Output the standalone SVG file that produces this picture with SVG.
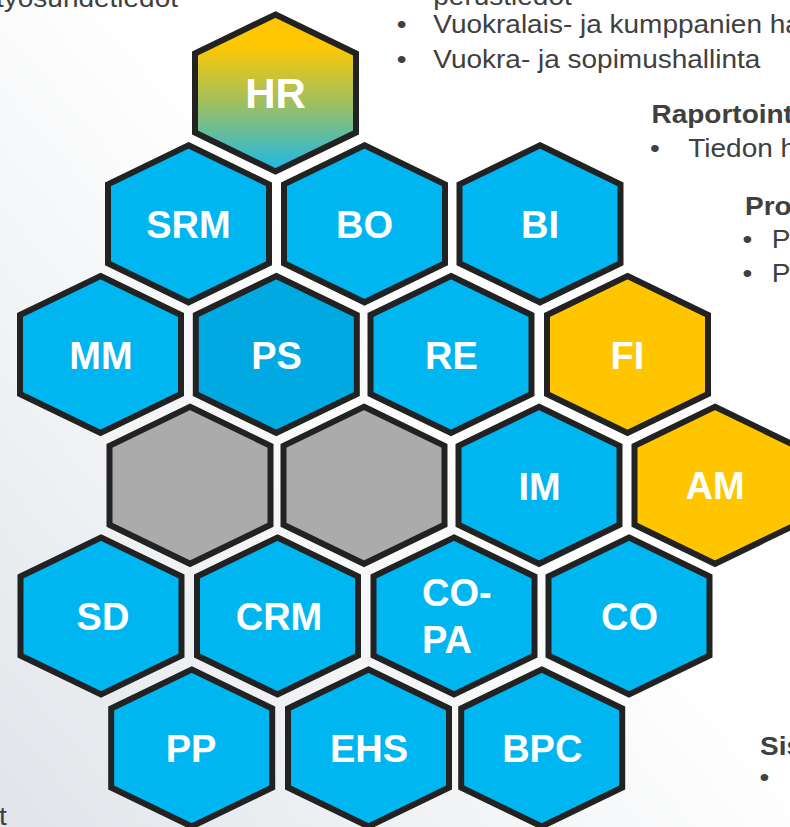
<svg xmlns="http://www.w3.org/2000/svg" xmlns:xlink="http://www.w3.org/1999/xlink" width="790" height="827" viewBox="0 0 790 827">
<defs>
<linearGradient id="bg" x1="0.6" y1="0.5" x2="0.05" y2="1">
<stop offset="0" stop-color="#FFFFFF"/>
<stop offset="1" stop-color="#E2E6EA"/>
</linearGradient>
<linearGradient id="hrg" x1="0" y1="0" x2="0" y2="1">
<stop offset="0" stop-color="#FFC800"/>
<stop offset="0.2" stop-color="#FDC703"/>
<stop offset="0.55" stop-color="#A3C05C"/>
<stop offset="1" stop-color="#1CB8EA"/>
</linearGradient>
<polygon id="hex" points="0,-78.5 80.5,-39.5 80.5,39.5 0,78.5 -80.5,39.5 -80.5,-39.5"/>
<style>
.h{stroke:#222222;stroke-width:6;stroke-linejoin:miter}
.blue{fill:#00B6F0}
.dblue{fill:#00A9E2}
.grey{fill:#ABABAB}
.yel{fill:#FFC600}
.lbl{font-family:"Liberation Sans",Arial,sans-serif;font-weight:bold;font-size:38px;fill:#FFFFFF;text-anchor:middle}
.body{font-family:"Liberation Sans",Arial,sans-serif;font-size:28px;fill:#404040}
.bold{font-weight:bold}
</style>
</defs>
<rect x="0" y="0" width="790" height="827" fill="url(#bg)"/>

<g id="texts" transform="scale(1 0.91)">
<text class="body" x="-4" y="7.7">työsuhdetiedot</text>
<text class="body" x="433.3" y="5.5">perustiedot</text>
<text class="body" x="396.8" y="36.7">•</text>
<text class="body" x="433.3" y="36.7">Vuokralais- ja kumppanien ha</text>
<text class="body" x="396.8" y="74.7">•</text>
<text class="body" x="433.3" y="74.7">Vuokra- ja sopimushallinta</text>
<text class="body bold" x="651.5" y="135.5">Raportoint</text>
<text class="body" x="650" y="172.2">•</text>
<text class="body" x="688.3" y="172.2">Tiedon h</text>
<text class="body bold" x="745" y="236.3">Pro</text>
<text class="body" x="742.4" y="272.9">•</text>
<text class="body" x="771.7" y="272.9">P</text>
<text class="body" x="742.4" y="309.6">•</text>
<text class="body" x="771.7" y="309.6">P</text>
<text class="body bold" x="760" y="829.7">Sis</text>
<text class="body" x="759.4" y="863.3">•</text>
<text class="body" x="-1" y="906.6">t</text>
</g>

<g id="nodes">
<g id="HR"><use xlink:href="#hex" x="275.5" y="93" class="h" fill="url(#hrg)"/><text class="lbl" x="275.5" y="108" style="font-size:42px">HR</text></g>

<g id="SRM"><use xlink:href="#hex" x="188.5" y="223.8" class="h blue"/><text class="lbl" x="188.5" y="237.8">SRM</text></g>
<g id="BO"><use xlink:href="#hex" x="364.5" y="223.8" class="h blue"/><text class="lbl" x="364.5" y="237.8">BO</text></g>
<g id="BI"><use xlink:href="#hex" x="540" y="223.8" class="h blue"/><text class="lbl" x="540" y="237.8">BI</text></g>

<g id="MM"><use xlink:href="#hex" x="100.5" y="354.5" class="h blue"/><text class="lbl" x="101" y="368.5">MM</text></g>
<g id="PS"><use xlink:href="#hex" x="276.3" y="354.5" class="h dblue"/><text class="lbl" x="276.5" y="368.5">PS</text></g>
<g id="RE"><use xlink:href="#hex" x="451" y="354.5" class="h blue"/><text class="lbl" x="451.5" y="368.5">RE</text></g>
<g id="FI"><use xlink:href="#hex" x="627.5" y="354.5" class="h yel"/><text class="lbl" x="627.5" y="368.5">FI</text></g>

<g id="G1"><use xlink:href="#hex" x="190" y="485.3" class="h grey"/></g>
<g id="G2"><use xlink:href="#hex" x="364" y="485.3" class="h grey"/></g>
<g id="IM"><use xlink:href="#hex" x="539" y="485.3" class="h blue"/><text class="lbl" x="539.5" y="500">IM</text></g>
<g id="AM"><use xlink:href="#hex" x="715" y="485.3" class="h yel"/><text class="lbl" x="715" y="498.5">AM</text></g>

<g id="SD"><use xlink:href="#hex" x="101" y="616" class="h blue"/><text class="lbl" x="103" y="630">SD</text></g>
<g id="CRM"><use xlink:href="#hex" x="277.5" y="616" class="h blue"/><text class="lbl" x="279" y="630">CRM</text></g>
<g id="COPA"><use xlink:href="#hex" x="454" y="616" class="h blue"/><text class="lbl" x="422" y="606" style="text-anchor:start">CO-</text><text class="lbl" x="422" y="652.5" style="text-anchor:start">PA</text></g>
<g id="CO"><use xlink:href="#hex" x="629" y="616" class="h blue"/><text class="lbl" x="629.5" y="630">CO</text></g>

<g id="PP"><use xlink:href="#hex" x="191.7" y="748" class="h blue"/><text class="lbl" x="191" y="762">PP</text></g>
<g id="EHS"><use xlink:href="#hex" x="368.5" y="748" class="h blue"/><text class="lbl" x="369" y="762">EHS</text></g>
<g id="BPC"><use xlink:href="#hex" x="541.7" y="748" class="h blue"/><text class="lbl" x="542.3" y="762">BPC</text></g>
</g>
</svg>
